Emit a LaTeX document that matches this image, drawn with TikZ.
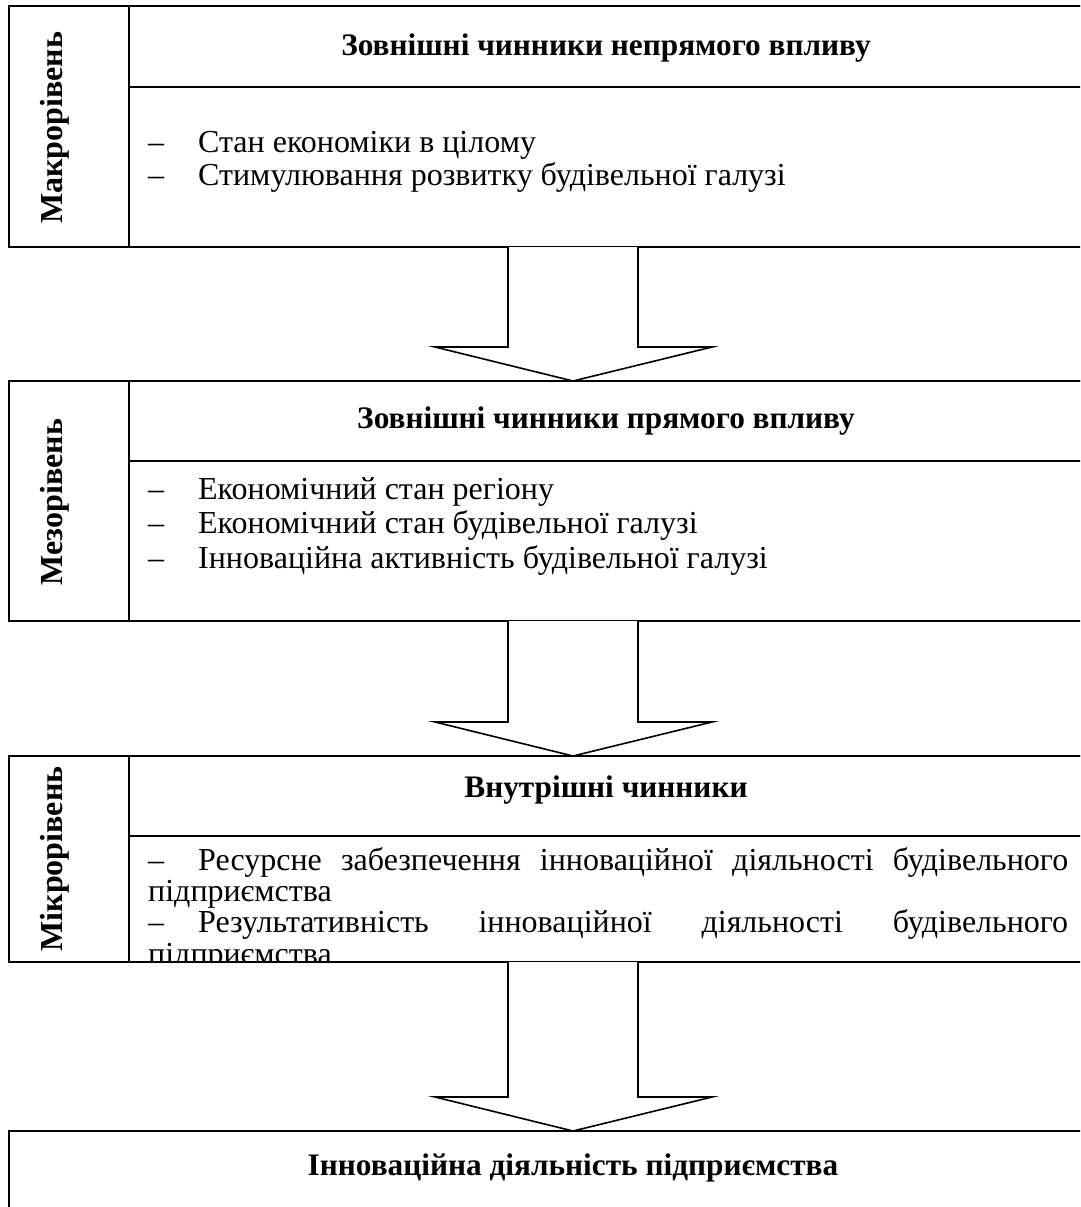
\documentclass[tikz,border=0pt]{standalone}
\usepackage{fontspec}
\setmainfont{Liberation Serif}
\usetikzlibrary{calc}
\begin{document}
\begin{tikzpicture}[x=1pt,y=-1pt,
  frame/.style={draw, line width=2pt, inner sep=0pt, outer sep=0pt, anchor=north west},
  lbl/.style={rotate=90, anchor=base, inner sep=0pt, font=\fontsize{32}{36}\selectfont\bfseries},
  head/.style={anchor=base, inner sep=0pt, font=\fontsize{31.3}{36}\selectfont\bfseries},
  itm/.style={anchor=base west, inner sep=0pt, font=\fontsize{32}{36}\selectfont},
  blk/.style={draw, line width=1.6pt, line join=miter, fill=white}]
\useasboundingbox (0,0) rectangle (1080,1207);
\clip (0,0) rectangle (1080,1207);
\coordinate (ax) at (573,0);
\coordinate (hx) at (606,0);
\newcommand\blkarrow[2]{%
  \draw[blk] ($(ax |- #1.south)+(-65,0)$) -- ($(ax |- #2.north)+(-65,-34)$)
    -- ($(ax |- #2.north)+(-138,-34)$) -- (ax |- #2.north)
    -- ($(ax |- #2.north)+(139,-34)$) -- ($(ax |- #2.north)+(65,-34)$)
    -- ($(ax |- #1.south)+(65,0)$);}
\newcommand\dashitem[1]{\makebox[50pt][l]{–}#1}

% ---- box 1
\node[frame, minimum width=1091pt, minimum height=241pt] (b1) at (9,6) {};
\node[frame, minimum width=120pt, minimum height=241pt] (l1) at (9,6) {};
\node[frame, minimum width=971pt, minimum height=81pt] (h1) at (129,6) {};
\node[lbl] (m1) at (62,128) {Макрорівень};
\node[head] (t1) at ($(hx |- h1.north)+(0,50)$) {Зовнішні чинники непрямого впливу};
\node[itm] (i11) at (148,152) {\dashitem{Стан економіки в цілому}};
\node[itm] (i12) at (148,185) {\dashitem{Стимулювання розвитку будівельної галузі}};

% ---- box 2
\node[frame, minimum width=1091pt, minimum height=240pt] (b2) at (9,381) {};
\node[frame, minimum width=120pt, minimum height=240pt] (l2) at (9,381) {};
\node[frame, minimum width=971pt, minimum height=80pt] (h2) at (129,381) {};
\node[lbl] (m2) at (62,502) {Мезорівень};
\node[head] (t2) at ($(hx |- h2.north)+(0,47)$) {Зовнішні чинники прямого впливу};
\node[itm] (i21) at (148,499) {\dashitem{Економічний стан регіону}};
\node[itm] (i22) at (148,533) {\dashitem{Економічний стан будівельної галузі}};
\node[itm] (i23) at (148,568) {\dashitem{Інноваційна активність будівельної галузі}};

% ---- box 3
\node[frame, minimum width=1091pt, minimum height=206pt] (b3) at (9,756) {};
\node[frame, minimum width=120pt, minimum height=206pt] (l3) at (9,756) {};
\node[frame, minimum width=971pt, minimum height=80pt] (h3) at (129,756) {};
\node[lbl] (m3) at (62,859) {Мікрорівень};
\node[head] (t3) at ($(hx |- h3.north)+(0,41)$) {Внутрішні чинники};
\begin{scope}
\clip (130,837) rectangle (1090,961);
\node[itm] (i31) at (148,870) {\makebox[920pt][s]{\dashitem{Ресурсне забезпечення інноваційної діяльності будівельного}}};
\node[itm] (i32) at (148,901) {підприємства};
\node[itm] (i33) at (148,932) {\makebox[920pt][s]{\dashitem{Результативність інноваційної діяльності будівельного}}};
\node[itm] (i34) at (148,964) {підприємства};
\end{scope}

% ---- box 4
\node[frame, minimum width=1091pt, minimum height=120pt] (b4) at (9,1131) {};
\node[head] (t4) at ($(ax |- b4.north)+(0,44)$) {Інноваційна діяльність підприємства};

% ---- arrows
\blkarrow{b1}{b2}
\blkarrow{b2}{b3}
\blkarrow{b3}{b4}
\end{tikzpicture}
\end{document}
